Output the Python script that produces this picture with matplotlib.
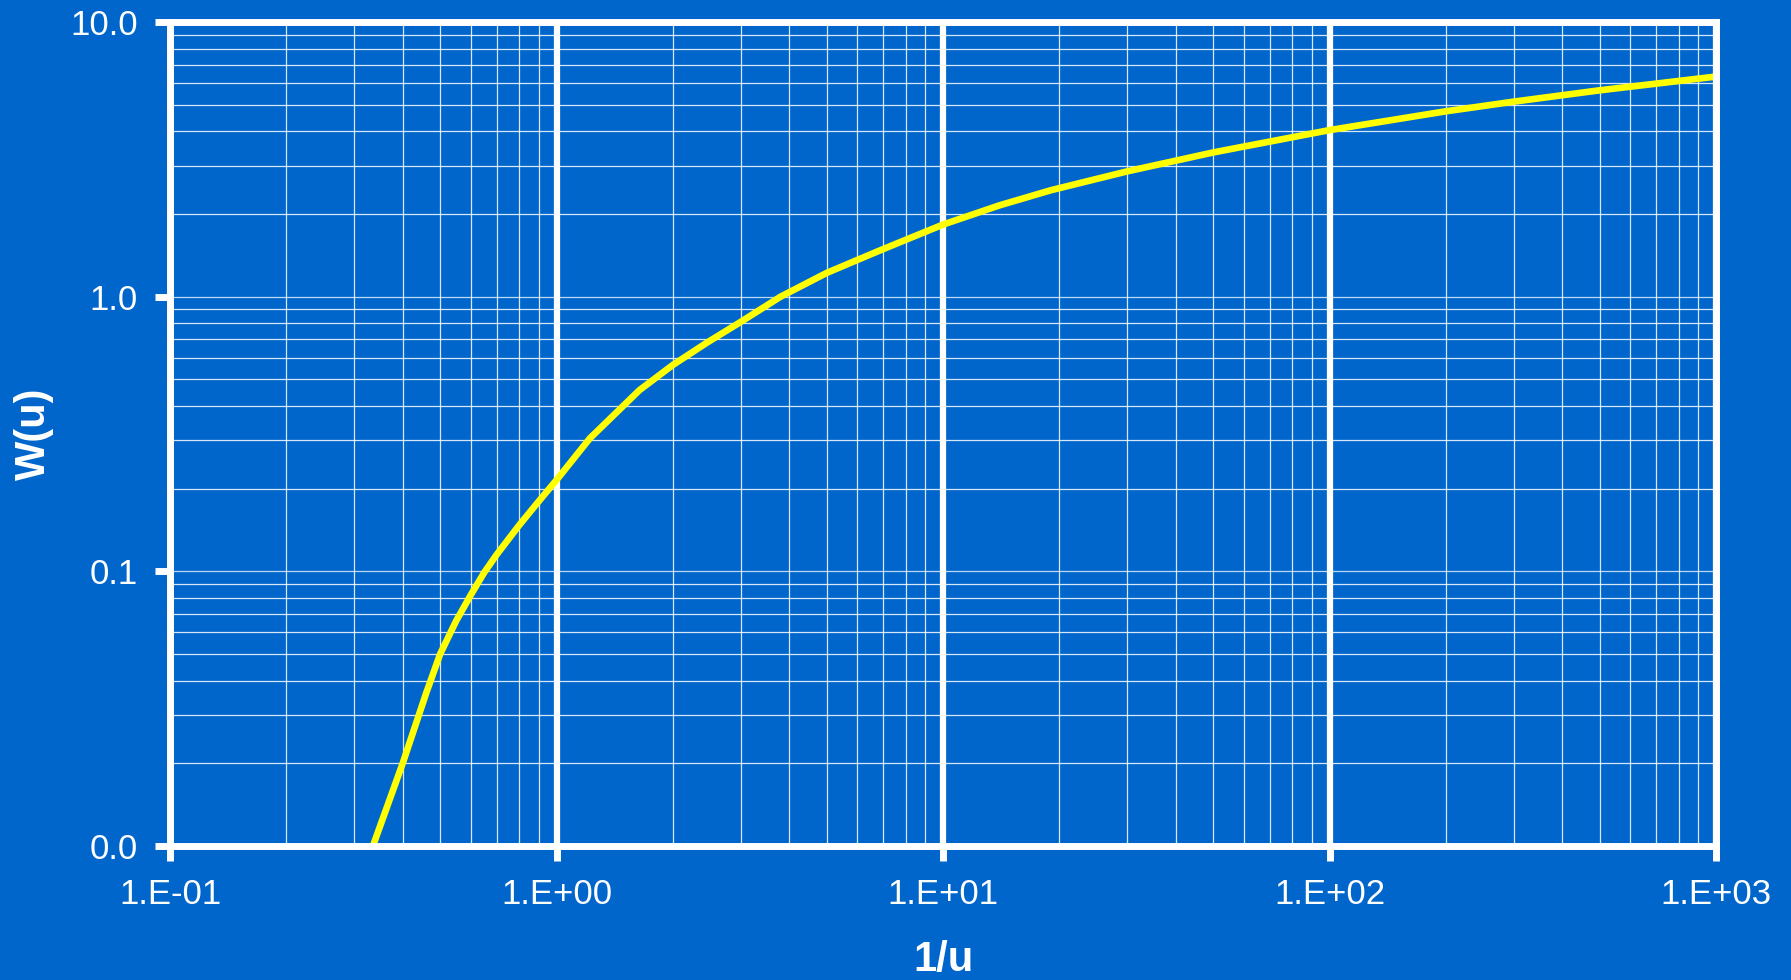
"""
Theis well function W(u) against 1/u on log-log axes, blue slide style.
"""

import matplotlib
matplotlib.use('Agg')
import matplotlib.pyplot as plt
from matplotlib.ticker import FuncFormatter, LogLocator, NullFormatter
import numpy as np

# Data
inv_u = [0.335, 0.40, 0.46, 0.50, 0.55, 0.60, 0.65, 0.70, 0.80, 0.90, 1.0,
         1.22, 1.64, 2.0, 2.45, 3.0, 3.8, 5.0, 6.0, 7.0, 10.0, 14.0, 19.0,
         30.0, 50.0, 100.0, 200.0, 300.0, 500.0, 1000.0]
w_u = [0.010, 0.020, 0.036, 0.050, 0.066, 0.082, 0.099, 0.115, 0.147, 0.180,
       0.215, 0.305, 0.457, 0.564, 0.680, 0.810, 1.0, 1.22, 1.36, 1.49, 1.83,
       2.15, 2.44, 2.86, 3.35, 4.04, 4.73, 5.13, 5.64, 6.33]

x_ticks = [0.1, 1, 10, 100, 1000]
y_ticks = [0.01, 0.1, 1, 10]

BG = '#0066CC'
FONT = ['Liberation Sans', 'DejaVu Sans']


def main():
    plt.rcParams['font.family'] = FONT
    fig = plt.figure(figsize=(17.91, 9.80), dpi=100, facecolor=BG)
    ax = fig.add_axes([170 / 1791, 1 - 846 / 980, 1546 / 1791, 824 / 980])
    ax.set_facecolor(BG)
    ax.set_xscale('log')
    ax.set_yscale('log')
    ax.set_xlim(0.1, 1000)
    ax.set_ylim(0.01, 10)

    # grid
    ax.xaxis.set_minor_locator(LogLocator(base=10, subs=np.arange(2, 10)))
    ax.yaxis.set_minor_locator(LogLocator(base=10, subs=np.arange(2, 10)))
    ax.xaxis.set_minor_formatter(NullFormatter())
    ax.yaxis.set_minor_formatter(NullFormatter())
    ax.grid(which='minor', color='white', lw=0.9, alpha=0.85)
    ax.grid(which='major', axis='y', color='white', lw=0.9, alpha=0.75)
    ax.grid(which='major', axis='x', color='white', lw=4.5)
    ax.set_axisbelow(True)

    ax.plot(inv_u, w_u, color='#FFFF00', lw=4.8, solid_capstyle='butt',
            solid_joinstyle='round', zorder=3)

    for sp in ax.spines.values():
        sp.set_color('white')
        sp.set_linewidth(5)
        sp.set_zorder(4)

    ax.set_xticks(x_ticks)
    ax.set_yticks(y_ticks)
    ax.xaxis.set_major_formatter(
        FuncFormatter(lambda v, p: f"1.E{int(round(np.log10(v))):+03d}"))
    ax.yaxis.set_major_formatter(FuncFormatter(lambda v, p: f"{v:.1f}"))
    ax.tick_params(which='major', direction='out', length=11, width=5,
                   color='white', labelcolor='white', labelsize=25, pad=12)
    ax.tick_params(which='minor', length=0)

    ax.set_xlabel('1/u', color='white', fontsize=30, fontweight='bold')
    ax.set_ylabel('W(u)', color='white', fontsize=30, fontweight='bold')
    ax.xaxis.set_label_coords(0.5, -0.114)
    ax.yaxis.set_label_coords(-0.075, 0.5)

    fig.savefig('out.png', dpi=100, facecolor=BG)


if __name__ == '__main__':
    main()
